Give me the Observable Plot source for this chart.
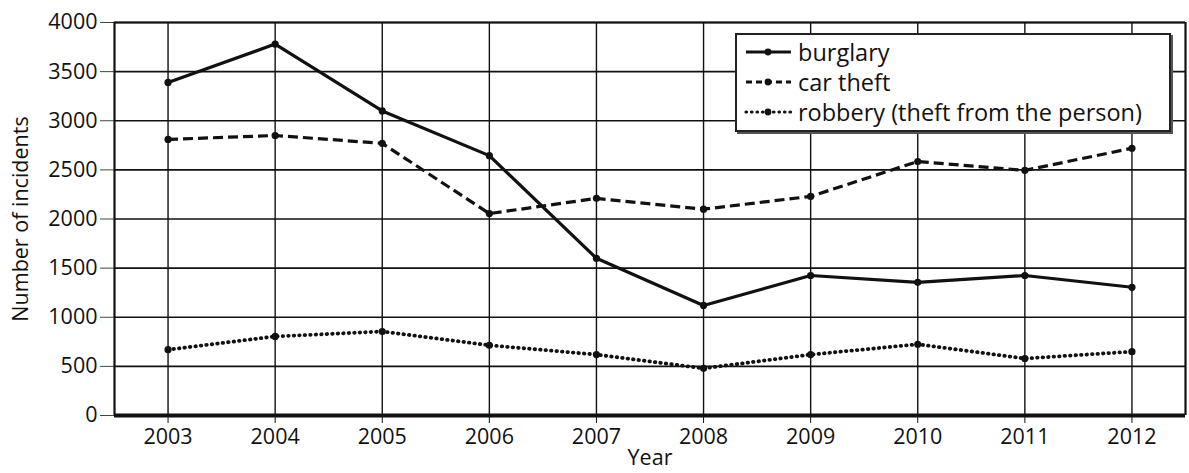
<!DOCTYPE html>
<html><head><meta charset="utf-8">
<script src="https://cdn.jsdelivr.net/npm/d3@7"></script>
<script src="https://cdn.jsdelivr.net/npm/@observablehq/plot@0.6"></script>
<style>
body{margin:0;background:#fff;font-family:"Open Sans",sans-serif;}
#wrap{position:relative;width:1189px;height:473px;}
#legend{position:absolute;left:735px;top:33px;width:436px;height:99px;border:2.5px solid #222;box-shadow:2px 2px 0 #555;background:#fff;font-size:23.5px;color:#111;box-sizing:border-box;padding:2px 6px;}
#legend div{display:flex;align-items:center;height:30px;}
#legend svg{margin-right:5px;}
</style></head><body>
<div id="wrap"></div>
<script>
const years = [2003,2004,2005,2006,2007,2008,2009,2010,2011,2012];
const burglary = [3390,3780,3100,2645,1600,1120,1425,1355,1425,1305];
const carTheft = [2810,2850,2770,2055,2210,2100,2230,2585,2495,2720];
const robbery = [670,805,855,715,620,480,620,725,580,650];
const yTicks = [0,500,1000,1500,2000,2500,3000,3500,4000];
const seriesNames = ["burglary","car theft","robbery (theft from the person)"];
const dashes = [null,"10,5","0.5,5"];

const rows = [];
[burglary,carTheft,robbery].forEach((arr,si)=>arr.forEach((v,i)=>rows.push({year:years[i],value:v,series:seriesNames[si]})));

const chart = Plot.plot({
  width:1189, height:473,
  marginLeft:114, marginRight:4, marginTop:22, marginBottom:58,
  style:{fontFamily:"Open Sans, sans-serif", fontSize:"21px", color:"#111", background:"#fff"},
  x:{domain:[2002.5,2012.5]},
  y:{domain:[0,4000]},
  marks:[
    Plot.ruleY(yTicks,{stroke:"#111",strokeWidth:1.6}),
    Plot.ruleX(years,{stroke:"#111",strokeWidth:1.4}),
    Plot.axisY(yTicks,{tickSize:14,tickPadding:3,stroke:"#444",fontSize:21.5,tickFormat:d=>String(d),label:"Number of incidents",labelAnchor:"center",labelArrow:"none",labelOffset:102}),
    Plot.axisX(years,{tickSize:8,tickPadding:5,fontSize:21.5,tickFormat:d=>String(d),label:"Year",labelAnchor:"center",labelArrow:"none",labelOffset:49}),
    Plot.ruleX([2002.5],{stroke:"#111",strokeWidth:2.2}),
    Plot.ruleX([2012.5],{stroke:"#111",strokeWidth:2.2}),
    Plot.ruleY([4000],{stroke:"#111",strokeWidth:1.8}),
    Plot.ruleY([0],{stroke:"#111",strokeWidth:4}),
    ...seriesNames.map((s,si)=>Plot.line(rows.filter(d=>d.series===s),{x:"year",y:"value",stroke:"#111",strokeWidth:si===2?3.8:3.2,strokeDasharray:dashes[si],strokeLinecap:si===2?"round":"butt"})),
    Plot.dot(rows,{x:"year",y:"value",r:3.6,fill:"#111"})
  ]
});
const wrap = document.getElementById("wrap");
wrap.appendChild(chart);
const leg = document.createElement("div");
leg.id="legend";
seriesNames.forEach((s,si)=>{
  const row=document.createElement("div");
  const da = si===1?'stroke-dasharray="6,4"':si===2?'stroke-dasharray="0.5,5" stroke-linecap="round"':'';
  row.innerHTML=`<svg width="50" height="12"><line x1="3" y1="6" x2="48" y2="6" stroke="#111" stroke-width="3.2" ${da}/><circle cx="25" cy="6" r="3.4" fill="#111"/></svg><span>${s}</span>`;
  leg.appendChild(row);
});
wrap.appendChild(leg);
</script>
</body></html>
